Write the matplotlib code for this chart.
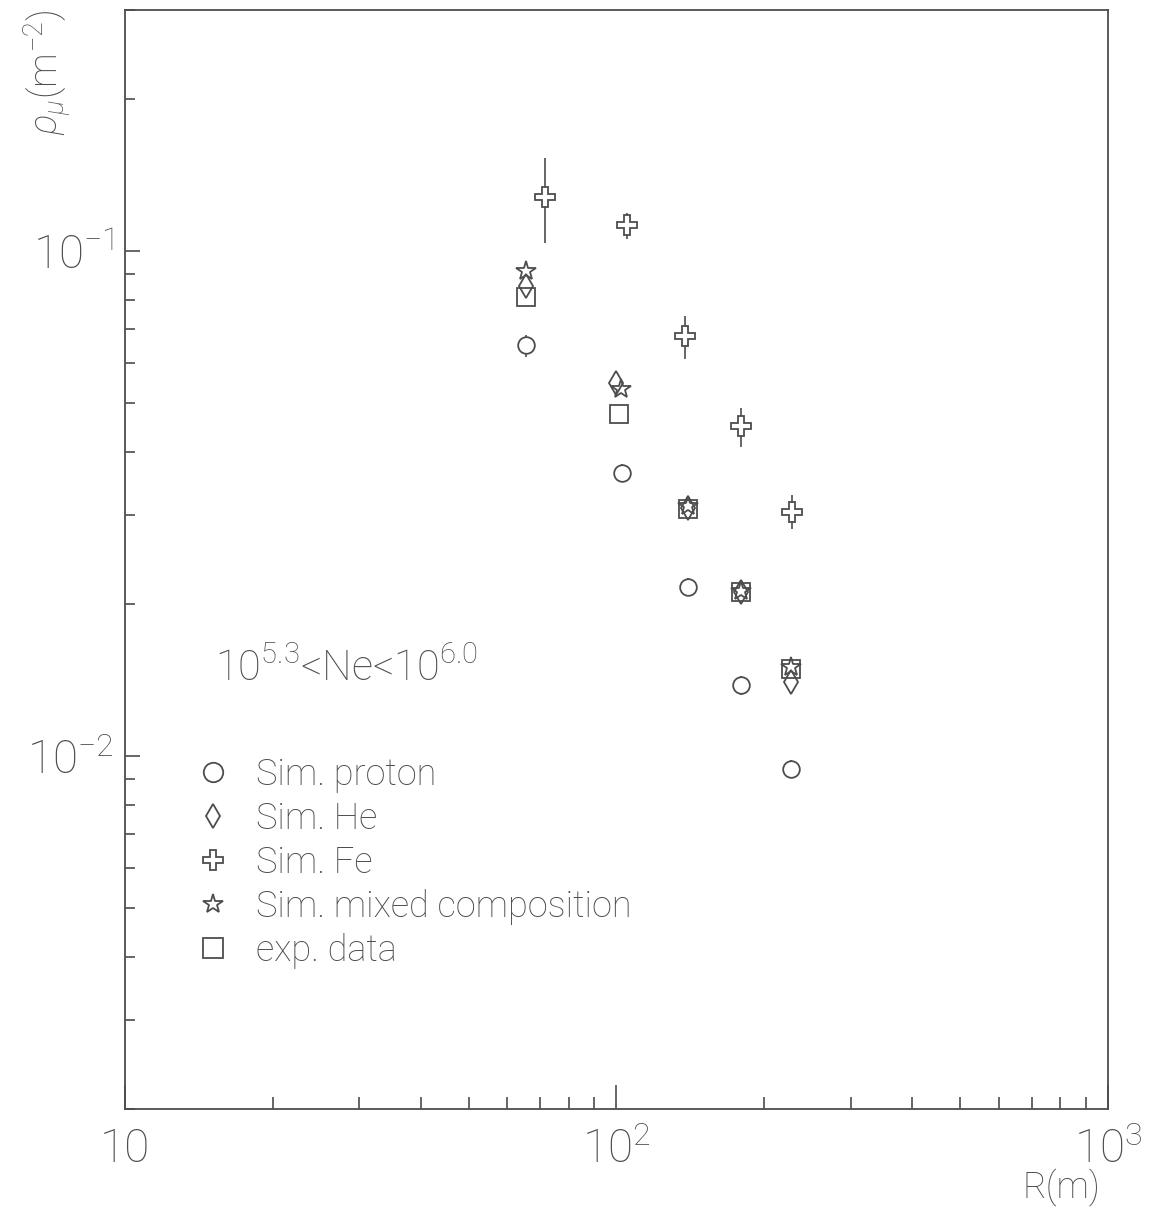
import numpy as np
import matplotlib
matplotlib.use('Agg')
import matplotlib.pyplot as plt
from matplotlib.lines import Line2D
from matplotlib.ticker import LogLocator, FuncFormatter, NullFormatter

plt.rcParams['font.family'] = ['Roboto', 'DejaVu Sans']
plt.rcParams['font.weight'] = 'light'
plt.rcParams['mathtext.fontset'] = 'custom'
plt.rcParams['mathtext.rm'] = 'Roboto:light'
plt.rcParams['mathtext.it'] = 'Roboto:italic:light'

gray = '#4d4d4d'

# core distance R (m)
r_p = [65.5, 102.6, 139.6, 179, 226]
r_he = [65.3, 100, 139.6, 179, 227]
r_fe = [71.6, 105, 137.7, 179, 227.5]
r_mix = [65.5, 102, 139.6, 179, 226]
r_exp = [65.5, 101, 139.6, 179, 226]

# muon density (m^-2)
rho_p = [0.065, 0.0363, 0.0216, 0.0138, 0.00943]
rho_he = [0.0853, 0.0547, 0.031, 0.0211, 0.014]
rho_fe = [0.128, 0.1125, 0.068, 0.045, 0.0304]
rho_mix = [0.0913, 0.0534, 0.0313, 0.0212, 0.015]
rho_exp = [0.0811, 0.0475, 0.0308, 0.0211, 0.0149]

# Fe error bar ends
fe_hi = [0.1526, 0.1189, 0.0744, 0.0488, 0.0329]
fe_lo = [0.1037, 0.1056, 0.0612, 0.0409, 0.0281]
# proton error (small)
p_err = [0.0032, 0.0015, 0.0009, 0.0006, 0.0004]

labels = ['Sim. proton', 'Sim. He', 'Sim. Fe', 'Sim. mixed composition', 'exp. data']

fig = plt.figure(figsize=(11.52, 12.10), dpi=100)
ax = fig.add_axes([0.1085, 0.0835, 0.8533, 0.9082])
ax.set_xscale('log')
ax.set_yscale('log')
ax.set_xlim(10, 1000)
ax.set_ylim(0.002, 0.3)

fe_err = [np.array(rho_fe) - np.array(fe_lo), np.array(fe_hi) - np.array(rho_fe)]

sty = dict(mec=gray, mew=1.3, ls='none')
ax.errorbar(r_p, rho_p, yerr=p_err, fmt='o', ms=12, mfc='white', ecolor=gray,
            elinewidth=1.2, capsize=0, **sty)
ax.plot(r_he, rho_he, 'd', ms=12, mfc='none', **sty)
ax.errorbar(r_fe, rho_fe, yerr=fe_err, fmt='P', ms=14, mfc='white', ecolor=gray,
            elinewidth=1.2, capsize=0, **sty)
ax.plot(r_mix, rho_mix, '*', ms=15, mfc='none', **sty)
ax.plot(r_exp, rho_exp, 's', ms=13, mfc='none', **sty)

handles = [Line2D([], [], marker='o', ms=14, mfc='none', **sty),
           Line2D([], [], marker='d', ms=12, mfc='none', **sty),
           Line2D([], [], marker='P', ms=14, mfc='none', **sty),
           Line2D([], [], marker='*', ms=15, mfc='none', **sty),
           Line2D([], [], marker='s', ms=14, mfc='none', **sty)]

for s in ax.spines.values():
    s.set_color(gray)
    s.set_linewidth(1.3)

ax.xaxis.set_major_locator(LogLocator(base=10, numticks=5))
ax.xaxis.set_minor_locator(LogLocator(base=10, subs=np.arange(2, 10), numticks=20))
ax.yaxis.set_major_locator(LogLocator(base=10, numticks=5))
ax.yaxis.set_minor_locator(LogLocator(base=10, subs=np.arange(2, 10), numticks=20))


def xfmt(v, pos):
    e = int(round(np.log10(v)))
    if e == 1:
        return '10'
    return r'$\mathregular{10^{%d}}$' % e


def yfmt(v, pos):
    e = int(round(np.log10(v)))
    return r'$\mathregular{10^{%d}}$' % e


ax.xaxis.set_major_formatter(FuncFormatter(xfmt))
ax.yaxis.set_major_formatter(FuncFormatter(yfmt))
ax.xaxis.set_minor_formatter(NullFormatter())
ax.yaxis.set_minor_formatter(NullFormatter())

ax.tick_params(axis='x', which='major', direction='in', length=17, width=1.2,
               colors=gray, labelsize=33, pad=13, top=False)
ax.tick_params(axis='x', which='minor', direction='in', length=9, width=1.2,
               colors=gray, top=False)
ax.tick_params(axis='y', which='major', direction='in', length=11, width=1.2,
               colors=gray, labelsize=33, pad=8, right=False)
ax.tick_params(axis='y', which='minor', direction='in', length=7, width=1.2,
               colors=gray, right=False)

fig.text(0.955, 0.003, 'R(m)', fontsize=26, color=gray, ha='right', va='bottom')
fig.text(0.018, 0.992, r'$\rho_\mu(\mathregular{m^{-2}})$', fontsize=28, color=gray,
         rotation=90, ha='left', va='top')

ax.text(0.092, 0.40, r'$\mathregular{10^{5.3}}$<Ne<$\mathregular{10^{6.0}}$',
        transform=ax.transAxes, fontsize=30, color=gray, ha='left', va='center')

leg = ax.legend(handles=handles, labels=labels, loc='upper left',
                bbox_to_anchor=(0.038, 0.35), frameon=False, fontsize=26,
                labelcolor=gray, handletextpad=0.7, labelspacing=0.22,
                handlelength=1.0)

fig.savefig('out.png', dpi=100)
